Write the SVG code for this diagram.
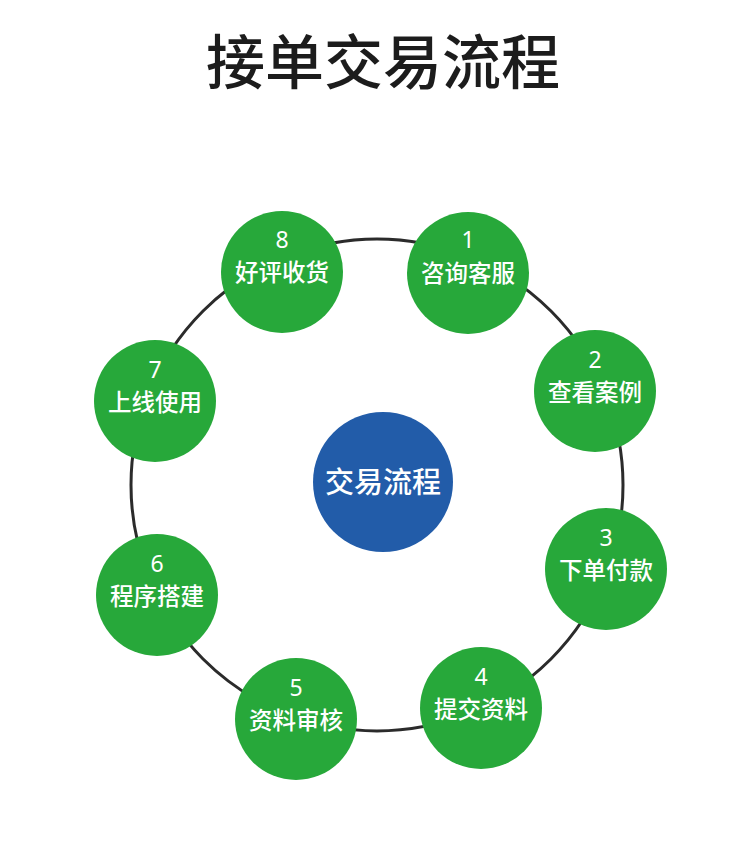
<svg xmlns="http://www.w3.org/2000/svg" width="750" height="857" viewBox="0 0 750 857">
<style>
.title{font-family:"Noto Sans CJK SC","Noto Sans",sans-serif;font-size:59px;font-weight:500;fill:#1c1c1c;text-anchor:middle}
.node circle{fill:#27a83a}
.num{font-family:"Noto Sans","Noto Sans CJK SC",sans-serif;font-size:23px;fill:#fff;text-anchor:middle}
.lbl{font-family:"Noto Sans CJK SC",sans-serif;font-size:23.5px;font-weight:500;fill:#fff;text-anchor:middle}
.center-lbl{font-family:"Noto Sans CJK SC",sans-serif;font-size:29px;font-weight:500;fill:#fff;text-anchor:middle}
.ring{fill:none;stroke:#2b2b2b;stroke-width:3}
</style>
<rect width="750" height="857" fill="#fff"/>
<text class="title" x="383" y="84">接单交易流程</text>
<g id="connectors">
<circle class="ring" cx="377" cy="485" r="246"/>
</g>
<g id="center">
<circle cx="383" cy="482" r="70" fill="#225ca9"/>
<text class="center-lbl" x="383" y="493">交易流程</text>
</g>
<g id="n1" class="node"><circle cx="468" cy="273" r="61"/><text class="num" x="468" y="248">1</text><text class="lbl" x="468" y="282">咨询客服</text></g>
<g id="n2" class="node"><circle cx="595" cy="391" r="61"/><text class="num" x="595" y="368">2</text><text class="lbl" x="595" y="401">查看案例</text></g>
<g id="n3" class="node"><circle cx="606" cy="569" r="61"/><text class="num" x="606" y="546">3</text><text class="lbl" x="606" y="579">下单付款</text></g>
<g id="n4" class="node"><circle cx="481" cy="708" r="61"/><text class="num" x="481" y="685">4</text><text class="lbl" x="481" y="718">提交资料</text></g>
<g id="n5" class="node"><circle cx="296" cy="719" r="61"/><text class="num" x="296" y="696">5</text><text class="lbl" x="296" y="729">资料审核</text></g>
<g id="n6" class="node"><circle cx="157" cy="595" r="61"/><text class="num" x="157" y="572">6</text><text class="lbl" x="157" y="605">程序搭建</text></g>
<g id="n7" class="node"><circle cx="155" cy="401" r="61"/><text class="num" x="155" y="378">7</text><text class="lbl" x="155" y="411">上线使用</text></g>
<g id="n8" class="node"><circle cx="282" cy="272" r="61"/><text class="num" x="282" y="248">8</text><text class="lbl" x="282" y="281">好评收货</text></g>
</svg>
